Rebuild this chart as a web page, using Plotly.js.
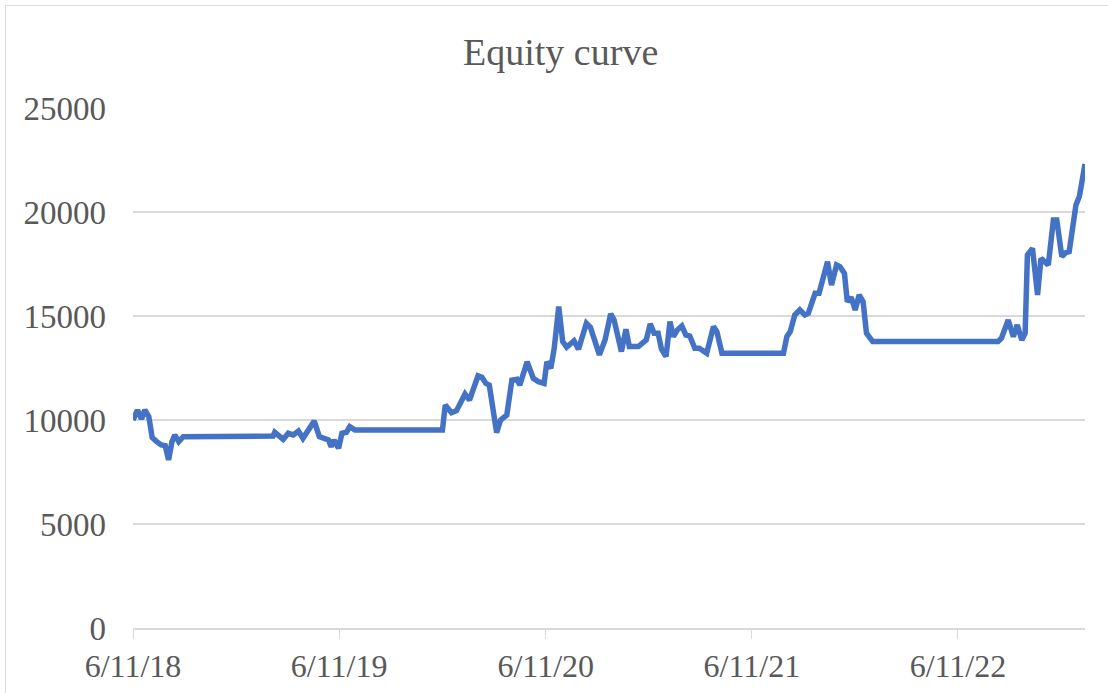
<!DOCTYPE html>
<html>
<head>
<meta charset="utf-8">
<script src="https://cdn.plot.ly/plotly-3.0.1.min.js"></script>
<style>
    html, body { margin: 0; padding: 0; background: #ffffff; }
    #chart { width: 1108px; height: 693px; }
    #frame {
        position: absolute; left: 5px; top: 5px; width: 1110px; height: 700px;
        border-left: 1px solid #d9d9d9; border-top: 1px solid #d9d9d9;
        pointer-events: none;
    }
</style>
</head>
<body>
<div id="chart"></div>
<div id="frame"></div>
<script>
// equity curve
// days after the first date (6/11/18) and account value on that day
const startDate = Date.UTC(2018, 5, 11);

const dayOffsets = [
    0, 8, 15, 21, 28, 34, 42, 50, 57, 63, 69, 74, 81, 89,
    248, 251, 266, 275, 284, 293, 301, 310, 321, 330, 340, 346, 351, 356, 364, 370, 378, 384, 393,
    548, 553, 564, 573, 582, 588, 596, 603, 611, 618, 625, 631, 644, 651, 662, 671, 680, 685,
    698, 709, 718, 728, 733, 740, 746, 754, 761, 768, 781, 789, 803, 810, 826, 836, 846, 852,
    865, 873, 879, 895, 909, 916, 923, 930, 936, 944, 951, 957, 964, 972, 979, 986, 995, 1003,
    1016, 1028, 1034, 1043,
    1152, 1158, 1164, 1172, 1181, 1190, 1196, 1208, 1215, 1230, 1237, 1246, 1252, 1260, 1265,
    1272, 1279, 1286, 1293, 1299, 1310,
    1532, 1538, 1550, 1559, 1566, 1574, 1580, 1584, 1593, 1602, 1608, 1621, 1630, 1636, 1645,
    1652, 1658, 1670, 1676, 1686
];

const equity = [
    10000, 10480, 10050, 10480, 10160, 9150, 8960, 8800, 8770, 8080, 8960, 9280, 8960, 9200,
    9230, 9410, 9070, 9360, 9280, 9470, 9120, 9520, 9950, 9200, 9120, 9040, 8720, 9040, 8640, 9360, 9410, 9680, 9520,
    9520, 10720, 10350, 10450, 10960, 11250, 10960, 11520, 12120, 12050, 11760, 11680, 9390, 10000, 10240, 11920, 11960, 11680,
    12800, 12000, 11840, 11760, 12800, 12490, 13450, 15450, 13770, 13500, 13810, 13400, 14650, 14460, 13130, 13850, 15100, 14810,
    13290, 14360, 13530, 13530, 13850, 14620, 14170, 14170, 13400, 13050, 14730, 14010, 14330, 14520, 14090, 14040, 13450, 13450,
    13210, 14490, 14250, 13210,
    13210, 14010, 14250, 15050, 15290, 15050, 15130, 16090, 16090, 17610, 16490, 17450, 17370, 17050, 15690,
    15900, 15290, 16010, 15690, 14170, 13770,
    13770, 13930, 14810, 14010, 14570, 13850, 14170, 17930, 18250, 16010, 17770, 17450, 19620, 19620, 17850,
    18050, 18100, 20340, 20740, 22310
];

// x axis ticks
const tickDates = ['2018-06-11', '2019-06-11', '2020-06-11', '2021-06-11', '2022-06-11'];
const tickLabels = ['6/11/18', '6/11/19', '6/11/20', '6/11/21', '6/11/22'];

function toDate(offset) {
    return new Date(startDate + offset * 86400000).toISOString().slice(0, 10);
}

const dates = dayOffsets.map(toDate);

const trace = {
    x: dates,
    y: equity,
    type: 'scatter',
    mode: 'lines',
    line: { color: '#4472c4', width: 5.5, shape: 'linear' },
    hoverinfo: 'x+y'
};

const fontFamily = '"Liberation Serif", "Times New Roman", serif';

const layout = {
    width: 1108,
    height: 693,
    margin: { l: 133, r: 23, t: 108, b: 65 },
    paper_bgcolor: '#ffffff',
    plot_bgcolor: '#ffffff',
    showlegend: false,
    font: { family: fontFamily, color: '#595959', size: 32 },
    title: {
        text: 'Equity curve',
        font: { family: fontFamily, color: '#595959', size: 38 },
        xref: 'container',
        x: 0.506,
        xanchor: 'center',
        yref: 'container',
        y: 0.925,
        yanchor: 'middle'
    },
    xaxis: {
        type: 'date',
        range: [dates[0], dates[dates.length - 1]],
        tickvals: tickDates,
        ticktext: tickLabels,
        showgrid: false,
        zeroline: false,
        showline: true,
        linecolor: '#d9d9d9',
        linewidth: 2,
        ticks: 'outside',
        ticklen: 9,
        tickwidth: 1,
        tickcolor: '#d9d9d9',
        tickfont: { family: fontFamily, color: '#595959', size: 32 }
    },
    yaxis: {
        range: [0, 25000],
        dtick: 5000,
        tick0: 0,
        showgrid: true,
        gridcolor: '#d9d9d9',
        gridwidth: 2,
        zeroline: false,
        showline: false,
        ticks: '',
        ticklabelstandoff: 26,
        tickformat: 'd',
        tickfont: { family: fontFamily, color: '#595959', size: 33 }
    }
};

Plotly.newPlot('chart', [trace], layout, { displayModeBar: false, responsive: false });
</script>
</body>
</html>
